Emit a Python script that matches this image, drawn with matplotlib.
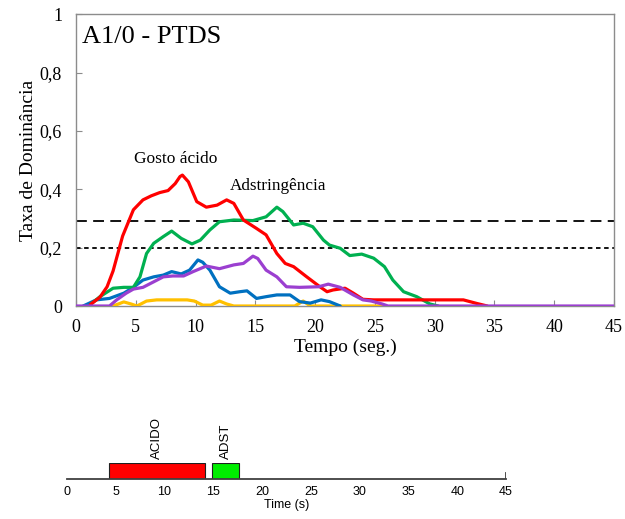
import matplotlib
matplotlib.use("Agg")
import matplotlib.pyplot as plt
from matplotlib.ticker import FixedLocator, FuncFormatter

# dominance curves, values (time in s, rate)
RED_T = [1.2, 2.0, 2.6, 3.1, 3.5, 3.9, 4.2, 4.8, 5.6, 6.3, 7.0, 7.7, 8.3, 8.7, 8.9, 9.4, 10.1,
         10.9, 11.8, 12.6, 13.2, 14.0, 15.1, 15.9, 16.8, 17.5, 18.2, 19.3, 20.4, 21.0, 21.5,
         22.5, 23.2, 24.0, 24.9, 32.4, 33.5, 34.4]
RED_Y = [0.005, 0.03, 0.066, 0.12, 0.18, 0.24, 0.27, 0.33, 0.364, 0.378, 0.389, 0.396, 0.42,
         0.444, 0.449, 0.426, 0.358, 0.339, 0.346, 0.364, 0.352, 0.295, 0.266, 0.244, 0.18, 0.146,
         0.135, 0.10, 0.066, 0.049, 0.055, 0.061, 0.044, 0.023, 0.021, 0.021, 0.009, 0]
GREEN_T = [1.2, 2.0, 3.1, 4.0, 4.8, 5.35, 5.9, 6.5, 7.3, 8.0, 8.8, 9.7, 10.4, 11.2, 12.0, 13.2,
           14.8, 15.9, 16.8, 17.3, 18.2, 19.0, 19.8, 20.7, 21.2, 22.1, 22.9, 23.9, 24.9, 25.8,
           26.5, 27.4, 28.5, 29.6, 30.3]
GREEN_Y = [0.005, 0.032, 0.061, 0.064, 0.064, 0.10, 0.18, 0.215, 0.238, 0.257, 0.232, 0.213,
           0.226, 0.261, 0.289, 0.295, 0.293, 0.306, 0.339, 0.324, 0.278, 0.284, 0.272, 0.226,
           0.209, 0.198, 0.173, 0.178, 0.164, 0.135, 0.089, 0.049, 0.032, 0.007, 0]
BLUE_T = [0.6, 1.7, 2.8, 4.0, 4.8, 5.6, 6.5, 7.3, 8.0, 8.8, 9.5, 10.2, 10.6, 11.2, 12.0, 12.9,
          13.7, 14.3, 15.1, 15.9, 16.8, 17.9, 18.7, 19.6, 20.5, 21.2, 22.1]
BLUE_Y = [0, 0.021, 0.026, 0.044, 0.064, 0.089, 0.10, 0.106, 0.118, 0.11, 0.123, 0.158, 0.15,
          0.123, 0.066, 0.044, 0.049, 0.052, 0.026, 0.032, 0.038, 0.038, 0.015, 0.01, 0.021,
          0.015, 0]
PURPLE_T = [0, 2.8, 3.4, 4.2, 4.8, 5.6, 6.5, 7.3, 8.1, 9.0, 9.8, 10.9, 12.0, 13.2, 14.0, 14.8,
            15.2, 15.9, 16.8, 17.6, 18.7, 20.3, 21.1, 22.1, 23.2, 24.0, 24.7, 25.6, 26.1, 45]
PURPLE_Y = [0, 0, 0.021, 0.044, 0.058, 0.064, 0.083, 0.10, 0.103, 0.103, 0.118, 0.137, 0.128,
            0.141, 0.146, 0.171, 0.163, 0.123, 0.10, 0.066, 0.064, 0.066, 0.075, 0.064, 0.038,
            0.021, 0.017, 0.007, 0, 0]
YELLOW_T = [3.1, 4.0, 4.6, 5.1, 5.9, 6.75, 9.3, 9.9, 10.6, 11.3, 12.0, 12.6, 13.2, 18.3, 19.0,
            19.6, 25.7]
YELLOW_Y = [0, 0.014, 0.007, 0, 0.017, 0.021, 0.021, 0.017, 0.003, 0.003, 0.017, 0.007, 0, 0,
            0.017, 0, 0]

CURVES = [(YELLOW_T, YELLOW_Y, '#FFC000'), (BLUE_T, BLUE_Y, '#0070C0'),
          (GREEN_T, GREEN_Y, '#00B050'), (RED_T, RED_Y, '#FF0000'),
          (PURPLE_T, PURPLE_Y, '#9B3FD0')]

CHANCE = 0.20        # chance level
SIGNIF = 0.292       # significance level

# TDS band
BAND_NAMES = ['ACIDO', 'ADST']
BAND_START = [4.3, 14.9]
BAND_END = [14.1, 17.6]
BAND_COLORS = ['#FF0000', '#00EE00']

SERIF = 'Liberation Serif'
SANS = 'Liberation Sans'

fig = plt.figure(figsize=(6.25, 5.19), dpi=100)

# --- top: dominance curves ---
ax = fig.add_axes([0.1216, 0.4104, 0.8608, 0.5617])
for t, y, c in CURVES:
    ax.plot(t, y, color=c, lw=2.3, solid_joinstyle='round', solid_capstyle='round', zorder=3)
ax.axhline(SIGNIF, color='black', lw=1.3, ls=(0, (6, 3.5)), zorder=2)
ax.axhline(CHANCE, color='black', lw=1.3, ls=(0, (2.5, 2)), zorder=2)

ax.set_xlim(0, 45)
ax.set_ylim(0, 1)
ax.xaxis.set_major_locator(FixedLocator(range(0, 46, 5)))
ax.yaxis.set_major_locator(FixedLocator([0, 0.2, 0.4, 0.6, 0.8, 1.0]))
ax.yaxis.set_major_formatter(FuncFormatter(
    lambda v, p: '0' if v == 0 else '1' if v == 1 else f'{v:.1f}'.replace('.', ',')))
ax.tick_params(direction='in', length=4, color='#8c8c8c', labelsize=13)
ax.tick_params(axis='y', pad=10)
ax.tick_params(axis='x', pad=9)
for lab in ax.get_xticklabels() + ax.get_yticklabels():
    lab.set_fontfamily(SERIF)
for s in ax.spines.values():
    s.set_color('#8c8c8c')
    s.set_linewidth(1.0)
ax.set_xlabel('Tempo (seg.)', fontsize=14, family=SERIF, labelpad=2)
ax.set_ylabel('Taxa de Dominância', fontsize=14, family=SERIF, labelpad=2)
ax.text(0.011, 0.922, 'A1/0 - PTDS', transform=ax.transAxes, fontsize=19, family=SERIF,
        va='center', ha='left')
ax.text(8.3, 0.504, 'Gosto ácido', fontsize=12.5, family=SERIF, ha='center', va='center')
ax.text(16.9, 0.41, 'Adstringência', fontsize=12.3, family=SERIF, ha='center', va='center')

# --- bottom: TDS band plot ---
bx = fig.add_axes([0.1072, 0.0771, 0.7024, 0.0308])
for name, s, e, c in zip(BAND_NAMES, BAND_START, BAND_END, BAND_COLORS):
    bx.bar(s, 1, width=e - s, align='edge', color=c, edgecolor='#202020', lw=0.8)
    bx.annotate(name, xy=((s + e) / 2, 1), xytext=(0, 3), textcoords='offset points',
                rotation=90, ha='center', va='bottom', fontsize=9.5, family=SANS)
bx.axvline(45, ymin=0, ymax=0.4, color='#404040', lw=1.3)
bx.set_xlim(0, 45)
bx.set_ylim(0, 1)
for side in ['top', 'right', 'left']:
    bx.spines[side].set_visible(False)
bx.spines['bottom'].set_color('#404040')
bx.spines['bottom'].set_linewidth(1.3)
bx.set_yticks([])
bx.xaxis.set_major_locator(FixedLocator(range(0, 46, 5)))
bx.tick_params(axis='x', length=0, labelsize=9, pad=5)
for lab in bx.get_xticklabels():
    lab.set_fontfamily(SANS)
bx.set_xlabel('Time (s)', fontsize=9, family=SANS, labelpad=1)

fig.savefig('out.png', dpi=100, facecolor='white')
